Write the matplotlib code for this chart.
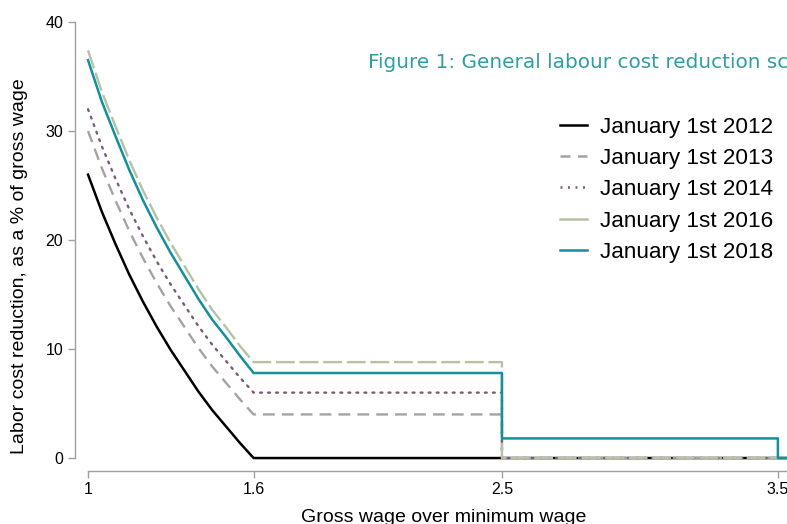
import matplotlib
matplotlib.use("Agg")
import matplotlib.pyplot as plt
from matplotlib.lines import Line2D

# gross wage as a multiple of the minimum wage
wage_curve = [1.0, 1.05, 1.1, 1.15, 1.2, 1.25, 1.3, 1.35, 1.4, 1.45, 1.5, 1.55, 1.6]
wage_end = 3.6

# reduction (% of gross wage) on the decreasing part
red_2012 = [26.0, 22.6, 19.6, 16.8, 14.3, 12.0, 9.9, 8.0, 6.1, 4.4, 2.9, 1.4, 0.0]
red_2013 = [30.0, 26.6, 23.6, 20.8, 18.3, 16.0, 13.9, 12.0, 10.1, 8.4, 6.9, 5.4, 4.0]
red_2014 = [32.0, 28.6, 25.6, 22.8, 20.3, 18.0, 15.9, 14.0, 12.1, 10.4, 8.9, 7.4, 6.0]
red_2016 = [37.4, 33.6, 30.4, 27.3, 24.5, 22.0, 19.7, 17.6, 15.5, 13.6, 12.0, 10.3, 8.8]
red_2018 = [36.5, 32.7, 29.5, 26.4, 23.6, 21.1, 18.8, 16.7, 14.6, 12.7, 11.1, 9.4, 7.8]

# flat / step part after 1.6
step_x_2012 = [wage_end]
step_y_2012 = [0.0]
step_x_2013 = [2.5, 2.5, wage_end]
step_y_2013 = [4.0, 0.0, 0.0]
step_x_2014 = [2.5, 2.5, wage_end]
step_y_2014 = [6.0, 0.0, 0.0]
step_x_2016 = [2.5, 2.5, wage_end]
step_y_2016 = [8.8, 0.0, 0.0]
step_x_2018 = [2.5, 2.5, 3.5, 3.5, wage_end]
step_y_2018 = [7.8, 1.8, 1.8, 0.0, 0.0]

labels = ["January 1st 2012", "January 1st 2013", "January 1st 2014",
          "January 1st 2016", "January 1st 2018"]
x_ticks = [1, 1.6, 2.5, 3.5]
y_ticks = [0, 10, 20, 30, 40]

plt.rcParams["font.family"] = ["Liberation Sans", "DejaVu Sans"]

W, H = 787, 524
fig = plt.figure(figsize=(7.87, 5.24), dpi=100)
ax = fig.add_axes([82.5 / W, (H - 462.4) / H, 704.5 / W, 440.4 / H])

c_2013 = "#a3a3a3"
c_2014 = "#7d5a78"
c_2016 = "#b5c2a6"
c_2018 = "#12909b"

ax.plot(wage_curve + step_x_2012, red_2012 + step_y_2012, color="black", lw=1.8)
ax.plot(wage_curve + step_x_2013, red_2013 + step_y_2013, color=c_2013, lw=1.7,
        dashes=(5, 3))
ax.plot(wage_curve + step_x_2014, red_2014 + step_y_2014, color=c_2014, lw=1.7,
        dashes=(0.8, 2.6), dash_capstyle="round")
ax.plot(wage_curve + step_x_2016, red_2016 + step_y_2016, color=c_2016, lw=1.7,
        dashes=(8, 2))
ax.plot(wage_curve + step_x_2018, red_2018 + step_y_2018, color=c_2018, lw=1.8)

ax.set_xlim(0.98, 3.533)
ax.set_ylim(-0.4, 40)

for s in ["top", "right"]:
    ax.spines[s].set_visible(False)
ax.spines["left"].set_position(("outward", 5.4))
ax.spines["bottom"].set_position(("outward", 6.2))
ax.spines["left"].set_bounds(0, 40)
ax.spines["bottom"].set_bounds(1, 3.6)
for s in ["left", "bottom"]:
    ax.spines[s].set_color("#a0a0a0")
    ax.spines[s].set_linewidth(1.0)

ax.set_xticks(x_ticks)
ax.set_xticklabels(["1", "1.6", "2.5", "3.5"])
ax.set_yticks(y_ticks)
ax.tick_params(colors="#a0a0a0", length=5, width=1.0, labelcolor="black",
               labelsize=11.5)
ax.tick_params(axis="x", pad=3)

# axis titles placed like the original
fig.text(444 / W, 1 - 517 / H, "Gross wage over minimum wage", fontsize=14,
         ha="center", va="center")
fig.text(20 / W, 1 - 266 / H, "Labor cost reduction, as a % of gross wage",
         fontsize=14, rotation=90, ha="center", va="center")

handles = [
    Line2D([], [], color="black", lw=1.8),
    Line2D([], [], color=c_2013, lw=1.8, dashes=(4, 3)),
    Line2D([], [], color=c_2014, lw=1.8, dashes=(0.8, 2.2)),
    Line2D([], [], color=c_2016, lw=1.8),
    Line2D([], [], color=c_2018, lw=1.8),
]
ax.legend(handles, labels, loc="upper left", bbox_to_anchor=(560 / W, 1 - 116.5 / H),
          bbox_transform=fig.transFigure, frameon=False, fontsize=16.2,
          handlelength=1.2, handletextpad=0.58, labelspacing=0.46,
          borderpad=0, borderaxespad=0)

fig.text(368 / W, 1 - 62 / H, "Figure 1: General labour cost reduction scheme",
         color="#2e9ea3", fontsize=14.4, family="DejaVu Sans", va="center",
         ha="left")

fig.savefig("out.png", dpi=100)
